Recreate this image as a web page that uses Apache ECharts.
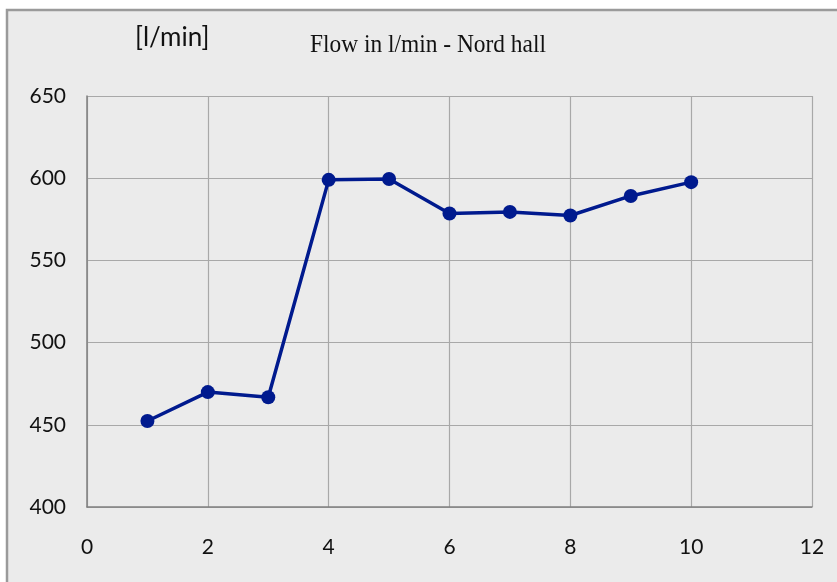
<!DOCTYPE html>
<html>
<head>
<meta charset="utf-8">
<script src="https://cdn.jsdelivr.net/npm/echarts@6/dist/echarts.min.js"></script>
<style>
  html, body { margin: 0; padding: 0; background: #ffffff; }
  #chart { width: 837px; height: 582px; }
</style>
</head>
<body>
<div id="chart"></div>
<script>
// Flow measurements, Nord hall
const sampleIndex = [1, 2, 3, 4, 5, 6, 7, 8, 9, 10];
const flowLpm = [452.3, 469.9, 466.8, 599.0, 599.5, 578.5, 579.5, 577.3, 589.2, 597.6];
const xTicks = [0, 2, 4, 6, 8, 10, 12];
const yTicks = [400, 450, 500, 550, 600, 650];

const chart = echarts.init(document.getElementById('chart'), null, { renderer: 'canvas' });

const tickFont = 'Lato, "Open Sans", sans-serif';

chart.setOption({
  backgroundColor: '#ffffff',
  animation: false,
  graphic: [
    {
      type: 'rect',
      z: -10,
      shape: { x: 7, y: 10, width: 900, height: 700 },
      style: { fill: '#ebebeb', stroke: '#9a9a9a', lineWidth: 2.5 }
    },
    {
      type: 'text',
      x: 135,
      y: 25,
      style: { text: '[l/min]', font: '26px ' + tickFont, fill: '#111111' }
    },
    {
      type: 'text',
      x: 310,
      y: 32,
      scaleX: 0.9,
      style: { text: 'Flow in l/min - Nord hall', font: '26px "Liberation Serif", "Times New Roman", serif', fill: '#111111' }
    }
  ],
  grid: { left: 87, right: 25, top: 96, bottom: 75, containLabel: false },
  xAxis: {
    type: 'value',
    min: xTicks[0],
    max: xTicks[xTicks.length - 1],
    interval: 2,
    axisLine: { show: true, lineStyle: { color: '#808080', width: 1.5 } },
    axisTick: { show: false },
    axisLabel: { margin: 30, fontFamily: tickFont, fontSize: 21, color: '#111111' },
    splitLine: { show: true, lineStyle: { color: '#a8a8a8', width: 1.2 } }
  },
  yAxis: {
    type: 'value',
    min: yTicks[0],
    max: yTicks[yTicks.length - 1],
    interval: 50,
    axisLine: { show: true, lineStyle: { color: '#808080', width: 1.5 } },
    axisTick: { show: false },
    axisLabel: { margin: 21, fontFamily: tickFont, fontSize: 21, color: '#111111' },
    splitLine: { show: true, lineStyle: { color: '#a8a8a8', width: 1.2 } }
  },
  series: [{
    type: 'line',
    data: sampleIndex.map((x, i) => [x, flowLpm[i]]),
    symbol: 'circle',
    symbolSize: 14,
    lineStyle: { color: '#001a8e', width: 3.5 },
    itemStyle: { color: '#001a8e' }
  }]
});
</script>
</body>
</html>
